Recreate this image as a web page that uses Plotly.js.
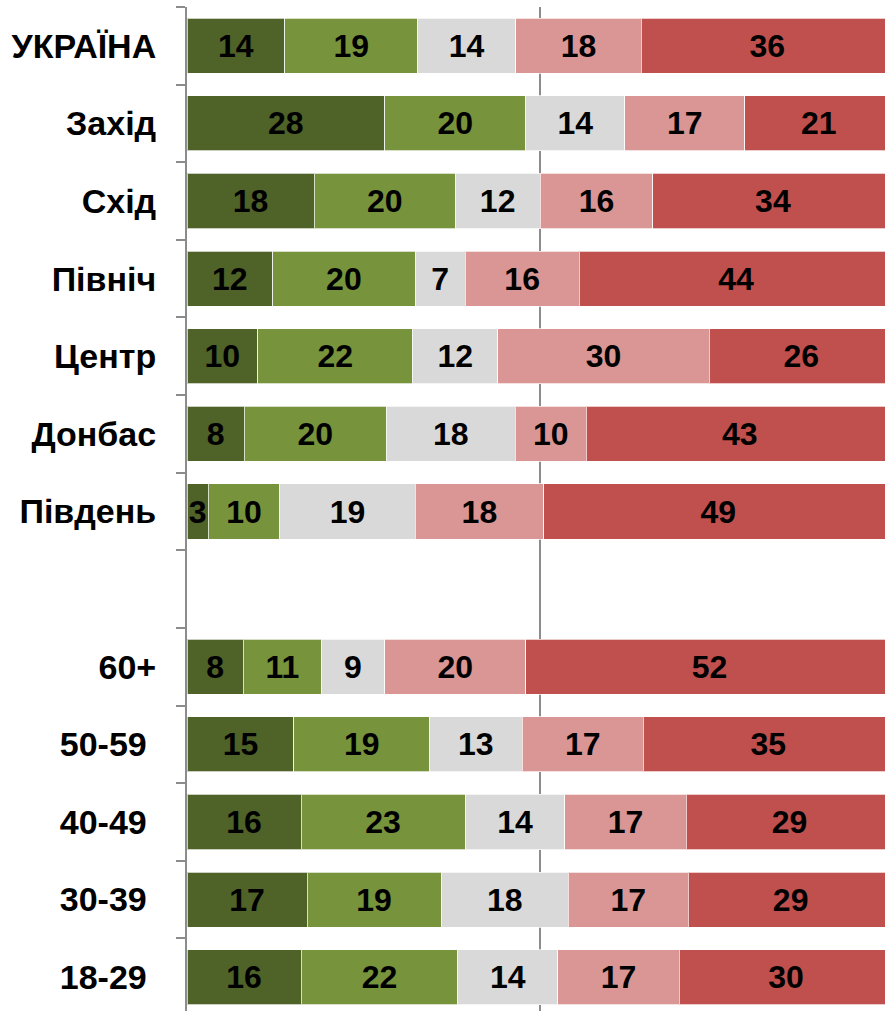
<!DOCTYPE html>
<html>
<head>
<meta charset="utf-8">
<script src="https://cdn.plot.ly/plotly-3.0.1.min.js"></script>
<style>
html, body { margin: 0; padding: 0; overflow: hidden; background: #fff; }
#chart { width: 893px; height: 1016px; }
</style>
</head>
<body>
<div id="chart"></div>
<script>
// Categories (top to bottom); ' ' is the empty spacer row
const categories = ['УКРАЇНА', 'Захід', 'Схід', 'Північ', 'Центр', 'Донбас', 'Південь', ' ',
                    '60+', '50-59\u00a0', '40-49\u00a0', '30-39\u00a0', '18-29\u00a0'];

// Series values (one array per stacked segment, left to right)
const s1 = [14, 28, 18, 12, 10, 8, 3, null, 8, 15, 16, 17, 16];
const s2 = [19, 20, 20, 20, 22, 20, 10, null, 11, 19, 23, 19, 22];
const s3 = [14, 14, 12, 7, 12, 18, 19, null, 9, 13, 14, 18, 14];
const s4 = [18, 17, 16, 16, 30, 10, 18, null, 20, 17, 17, 17, 17];
const s5 = [36, 21, 34, 44, 26, 43, 49, null, 52, 35, 29, 29, 30];

const seriesNames = ['1', '2', '3', '4', '5'];
const seriesColors = ['#4F6228', '#77933C', '#D9D9D9', '#D99694', '#C0504D'];
const allSeries = [s1, s2, s3, s4, s5];

const traces = allSeries.map((vals, i) => ({
  type: 'bar',
  orientation: 'h',
  name: seriesNames[i],
  y: categories,
  x: vals,
  text: vals.map(v => v === null ? '' : String(v)),
  texttemplate: '%{text}',
  textposition: 'inside',
  insidetextanchor: 'middle',
  textangle: 0,
  constraintext: 'none',
  textfont: { family: 'Liberation Sans, Arial, sans-serif', size: 32, color: '#000', weight: 'bold' },
  marker: { color: seriesColors[i], line: { color: 'rgba(255,255,255,0.7)', width: 1 } },
  hoverinfo: 'skip'
}));

const layout = {
  width: 893,
  height: 1016,
  margin: { l: 187, r: 0, t: 7, b: 0, pad: 0 },
  barmode: 'stack',
  barnorm: 'percent',
  bargap: 0.29,
  showlegend: false,
  paper_bgcolor: '#fff',
  plot_bgcolor: '#fff',
  font: { family: 'Liberation Sans, Arial, sans-serif', color: '#000' },
  xaxis: {
    range: [0, 100],
    tickvals: [0, 50, 100],
    showticklabels: false,
    showgrid: true,
    gridcolor: '#8c8c8c',
    gridwidth: 2,
    zeroline: false,
    showline: false,
    fixedrange: true
  },
  yaxis: {
    type: 'category',
    categoryorder: 'array',
    categoryarray: categories,
    autorange: 'reversed',
    tickson: 'boundaries',
    ticks: 'outside',
    ticklen: 9,
    tickwidth: 2,
    tickcolor: '#8c8c8c',
    showline: true,
    linecolor: '#8c8c8c',
    linewidth: 2,
    showgrid: false,
    ticklabelstandoff: 22,
    tickfont: { family: 'Liberation Sans, Arial, sans-serif', size: 34, color: '#000', weight: 'bold' },
    fixedrange: true
  }
};

Plotly.newPlot('chart', traces, layout, { displayModeBar: false, staticPlot: true });
</script>
</body>
</html>
